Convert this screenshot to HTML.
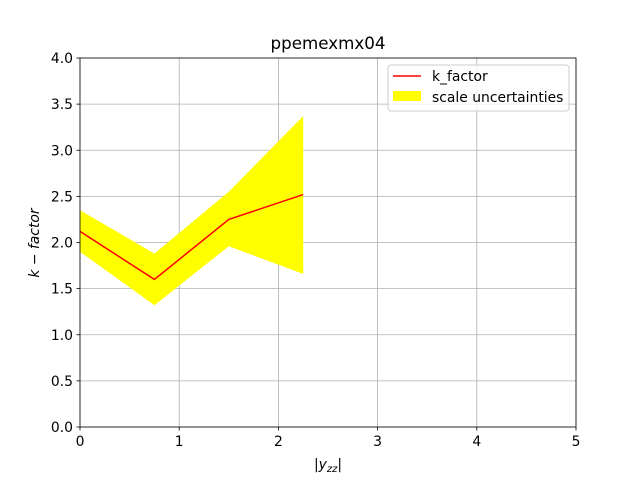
<!DOCTYPE html>
<html><head><meta charset="utf-8"><style>
body{margin:0;background:#fff;}
svg text{font-family:"DejaVu Sans","Liberation Sans",sans-serif;}
</style></head><body>
<svg id="chart" width="640" height="480" viewBox="0 0 640 480" xmlns="http://www.w3.org/2000/svg">
<rect width="640" height="480" fill="#fff"/>
<g id="grid"></g>
<g id="plot"></g>
<rect x="80" y="58" width="496" height="369" fill="none" stroke="#000" stroke-width="0.8"/>
<g id="ticks"></g>
<text x="328" y="49" text-anchor="middle" font-size="16.7">ppemexmx04</text>
<text x="328" y="469" text-anchor="middle" font-size="13.9">|<tspan font-style="italic">y</tspan><tspan font-style="italic" font-size="10" dy="3">zz</tspan><tspan dy="-3">|</tspan></text>
<text transform="translate(39,243) rotate(-90)" text-anchor="middle" font-size="13.9" font-style="italic">k − factor</text>
<g>
<rect x="388" y="65" width="181" height="46" rx="3" fill="#fff" fill-opacity="0.8" stroke="#ccc" stroke-width="1"/>
<line x1="393" y1="76" x2="421" y2="76" stroke="red" stroke-width="1.5"/>
<text x="432" y="81" font-size="13.9">k_factor</text>
<rect x="393" y="91" width="28" height="10" fill="yellow"/>
<text x="432" y="102" font-size="13.9">scale uncertainties</text>
</g>
</svg>
<script>
const xValues=[0,0.75,1.5,2.25];
const kFactor=[2.12,1.60,2.25,2.52];
const upper=[2.35,1.88,2.55,3.37];
const lower=[1.90,1.32,1.96,1.66];
const xTicks=[0,1,2,3,4,5];
const yTicks=[0,0.5,1,1.5,2,2.5,3,3.5,4];
const NS="http://www.w3.org/2000/svg";
const L=80,R=576,T=58,B=427;
const sx=v=>L+(v-0)/(5-0)*(R-L);
const sy=v=>B-(v-0)/(4-0)*(B-T);
function mk(tag,attrs,parent){const e=document.createElementNS(NS,tag);for(const k in attrs)e.setAttribute(k,attrs[k]);parent.appendChild(e);return e;}
const grid=document.getElementById('grid'),ticks=document.getElementById('ticks'),plot=document.getElementById('plot');
xTicks.forEach(t=>{
 const g=mk('line',{x1:sx(t),x2:sx(t),y1:T,y2:B,stroke:'#b0b0b0','stroke-width':0.8},grid);
 
 
 mk('line',{x1:sx(t),x2:sx(t),y1:B,y2:B+3.5,stroke:'#000','stroke-width':0.8},ticks);
 const tx=mk('text',{x:sx(t),y:B+19,'text-anchor':'middle','font-size':13.9},ticks);
 tx.textContent=String(t);
 
 
});
yTicks.forEach(t=>{
 const g=mk('line',{x1:L,x2:R,y1:sy(t),y2:sy(t),stroke:'#b0b0b0','stroke-width':0.8},grid);
 
 
 mk('line',{x1:L-3.5,x2:L,y1:sy(t),y2:sy(t),stroke:'#000','stroke-width':0.8},ticks);
 const tx=mk('text',{x:L-7,y:sy(t)+5,'text-anchor':'end','font-size':13.9},ticks);
 tx.textContent=t.toFixed(1);
 
 
});
let pts=xValues.map((x,i)=>sx(x)+','+sy(upper[i]));
for(let i=xValues.length-1;i>=0;i--)pts.push(sx(xValues[i])+','+sy(lower[i]));
const band=mk('polygon',{points:pts.join(' '),fill:'yellow'},plot);


const line=mk('polyline',{points:xValues.map((x,i)=>sx(x)+','+sy(kFactor[i])).join(' '),fill:'none',stroke:'red','stroke-width':1.5},plot);


</script>
</body></html>
